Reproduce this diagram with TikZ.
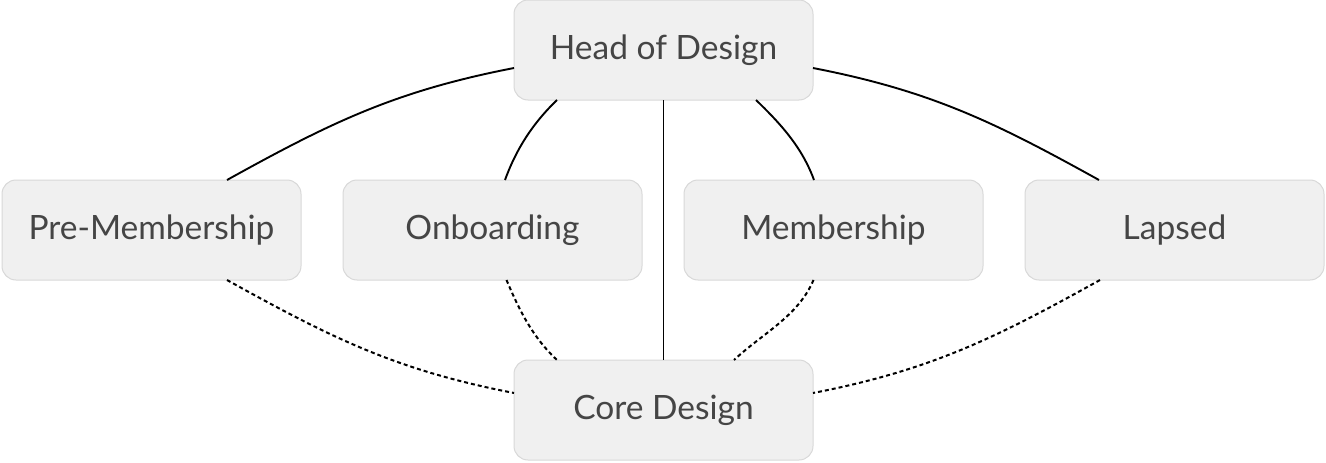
\documentclass[tikz,border=0pt]{standalone}
\usepackage{fontspec}
\setmainfont{Lato}
\definecolor{boxfill}{HTML}{F0F0F0}
\definecolor{boxline}{HTML}{D8D8D8}
\definecolor{boxtext}{HTML}{454545}
\begin{document}
\begin{tikzpicture}[x=1pt,y=1pt,
  stagebox/.style={draw=boxline,fill=boxfill,line width=1pt,rounded corners=14pt,
    minimum width=299pt,minimum height=100pt,inner sep=0pt,outer sep=0pt,
    text=boxtext,font=\fontsize{33.5}{38}\selectfont},
  link/.style={line width=1.9pt,black},
  dotlink/.style={line width=2pt,black,dash pattern=on 4pt off 3pt}]
\useasboundingbox (0,0) rectangle (1326,-463);
\node[stagebox] (head) at (663.5,-50) {Head of Design};
\node[stagebox] (pre) at (151.5,-230) {Pre-Membership};
\node[stagebox] (onb) at (492.5,-230) {Onboarding};
\node[stagebox] (mem) at (833.5,-230) {Membership};
\node[stagebox] (lap) at (1174.5,-230) {Lapsed};
\node[stagebox] (core) at (663.5,-410) {Core Design};
% solid links from Head of Design
\draw[link] ([yshift=-18pt]head.west) to[out=191,in=29] ([xshift=75.5pt]pre.north);
\draw[link] ([xshift=-106.5pt]head.south) to[out=-136,in=70,looseness=0.9] ([xshift=12.5pt]onb.north);
\draw[link] (head.south) -- (core.north);
\draw[link] ([xshift=92.5pt]head.south) to[out=-44,in=110,looseness=0.9] ([xshift=-19.5pt]mem.north);
\draw[link] ([yshift=-18pt]head.east) to[out=-11,in=151] ([xshift=-75.5pt]lap.north);
% dotted links to Core Design
\draw[dotlink] ([xshift=75.5pt]pre.south) to[out=-29,in=169] ([yshift=17pt]core.west);
\draw[dotlink] ([xshift=14pt]onb.south) to[out=-67,in=137,looseness=0.9] ([xshift=-106.5pt]core.north);
\draw[dotlink] ([xshift=-20pt]mem.south) to[out=-113,in=43,looseness=0.9] ([xshift=70.5pt]core.north);
\draw[dotlink] ([xshift=-74.5pt]lap.south) to[out=-151,in=11] ([yshift=17pt]core.east);
\end{tikzpicture}
\end{document}
